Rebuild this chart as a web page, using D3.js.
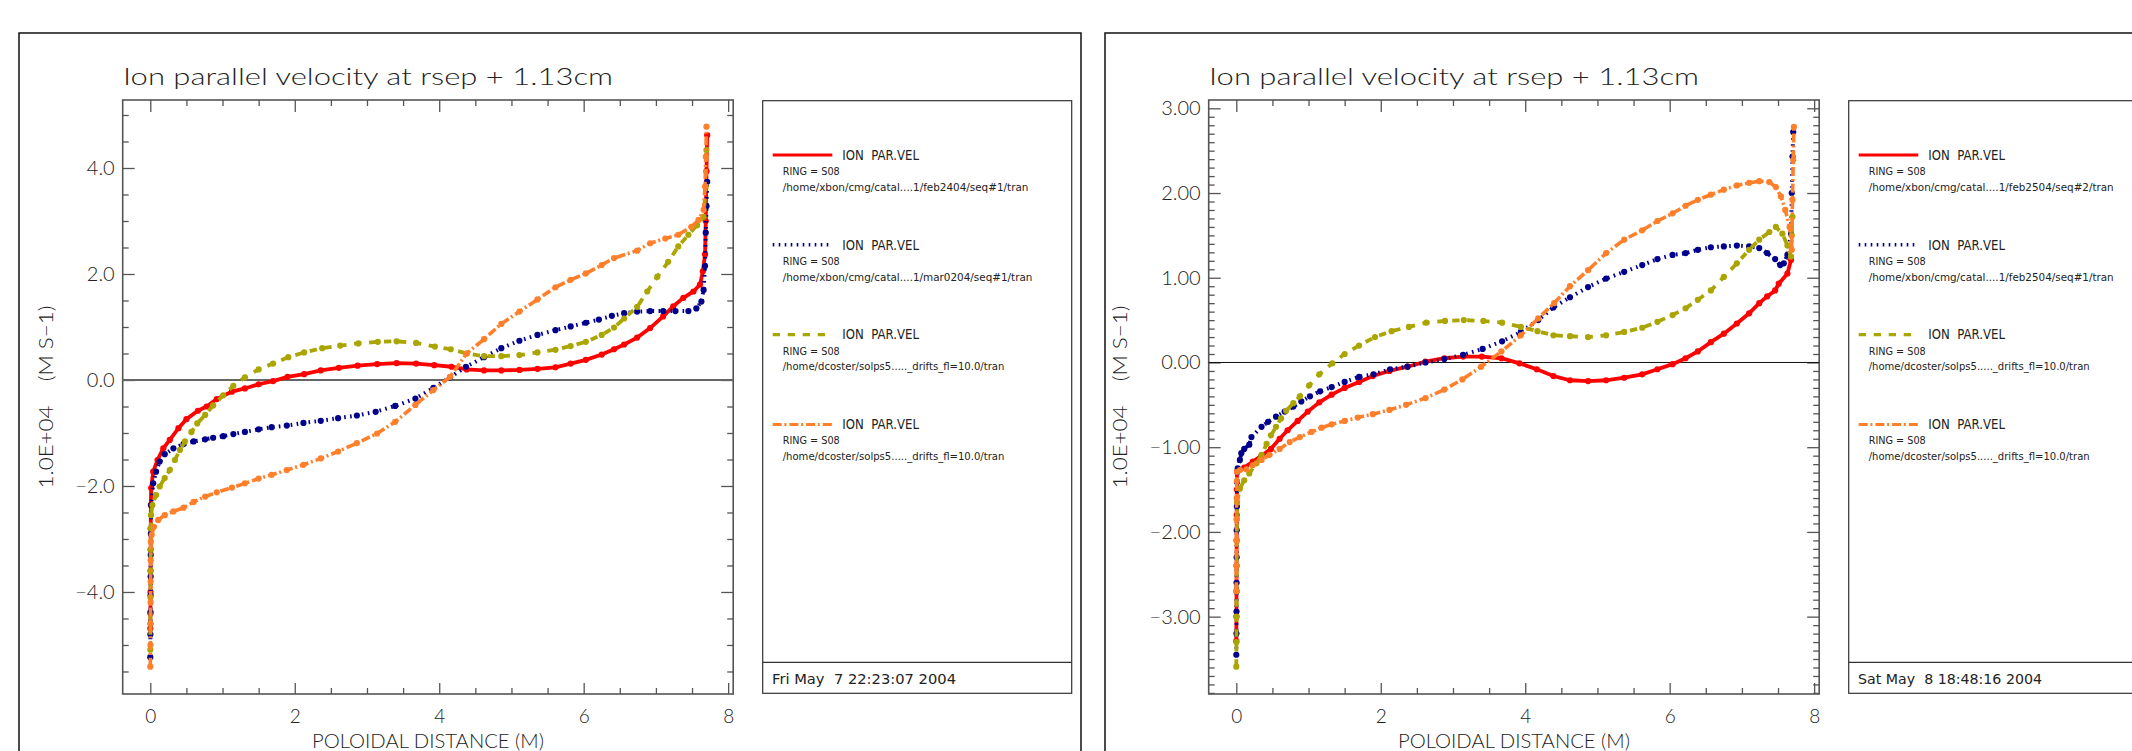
<!DOCTYPE html>
<html>
<head>
<meta charset="utf-8">
<script src="https://cdnjs.cloudflare.com/ajax/libs/d3/7.8.5/d3.min.js"></script>
<style>
  body { margin: 0; background: #fff; }
  svg { display: block; }
  text { font-family: 'DejaVu Sans ExtraLight', Lato, 'DejaVu Sans', sans-serif; font-weight: 300; fill: #222; white-space: pre; }
  .leg text { font-family: 'DejaVu Sans', sans-serif; font-weight: normal; }
</style>
</head>
<body>
<div id="chart"></div>
<script>
// ---- data (values in 1.0E+04 m/s) ----
var titleText = 'Ion parallel velocity at rsep + 1.13cm';
var xTitle = 'POLOIDAL DISTANCE (M)';
var yTitle = '1.0E+04    (M S\u22121)';
var xTicks = [0, 2, 4, 6, 8];
var xTickLabels = ['0', '2', '4', '6', '8'];
var yTicksA = [-4, -2, 0, 2, 4];
var yTickLabelsA = ['\u22124.0', '\u22122.0', '0.0', '2.0', '4.0'];
var yTicksB = [-3, -2, -1, 0, 1, 2, 3];
var yTickLabelsB = ['\u22123.00', '\u22122.00', '\u22121.00', '0.00', '1.00', '2.00', '3.00'];

var seriesNames = ['ION  PAR.VEL', 'ION  PAR.VEL', 'ION  PAR.VEL', 'ION  PAR.VEL'];
var ringLabel = 'RING = S08';
var pathsA = ['/home/xbon/cmg/catal....1/feb2404/seq#1/tran', '/home/xbon/cmg/catal....1/mar0204/seq#1/tran',
  '/home/dcoster/solps5....._drifts_fl=10.0/tran', '/home/dcoster/solps5....._drifts_fl=10.0/tran'];
var pathsB = ['/home/xbon/cmg/catal....1/feb2504/seq#2/tran', '/home/xbon/cmg/catal....1/feb2504/seq#1/tran',
  '/home/dcoster/solps5....._drifts_fl=10.0/tran', '/home/dcoster/solps5....._drifts_fl=10.0/tran'];
var dateA = 'Fri May  7 22:23:07 2004';
var dateB = 'Sat May  8 18:48:16 2004';

// left plot
var redAx = [0, 0.002, 0.003, 0.004, 0.005, 0.006, 0.008, 0.012, 0.04, 0.10, 0.18, 0.27, 0.39, 0.50, 0.66, 0.78, 0.92, 1.13, 1.31, 1.50, 1.70, 1.90, 2.13, 2.36, 2.61, 2.87, 3.14, 3.41, 3.68, 3.93, 4.17, 4.38, 4.62, 4.86, 5.11, 5.36, 5.61, 5.82, 6.03, 6.25, 6.42, 6.56, 6.74, 6.92, 7.10, 7.24, 7.38, 7.52, 7.61, 7.65, 7.68, 7.69, 7.70, 7.71];
var redAy = [-4.69, -4.4, -4.0, -3.6, -3.2, -2.8, -2.36, -2.04, -1.73, -1.51, -1.29, -1.13, -0.91, -0.74, -0.58, -0.50, -0.36, -0.22, -0.16, -0.08, -0.02, 0.06, 0.11, 0.18, 0.23, 0.27, 0.30, 0.32, 0.31, 0.28, 0.25, 0.20, 0.18, 0.18, 0.19, 0.21, 0.24, 0.31, 0.38, 0.48, 0.58, 0.67, 0.80, 0.98, 1.20, 1.39, 1.55, 1.67, 1.80, 2.05, 2.37, 3.0, 3.94, 4.62];
var blueAx = [0, 0.002, 0.003, 0.004, 0.005, 0.006, 0.008, 0.012, 0.04, 0.08, 0.13, 0.20, 0.32, 0.46, 0.60, 0.76, 0.87, 1.01, 1.15, 1.31, 1.50, 1.68, 1.89, 2.12, 2.36, 2.60, 2.86, 3.12, 3.39, 3.67, 3.92, 4.15, 4.37, 4.62, 4.86, 5.11, 5.36, 5.61, 5.82, 6.03, 6.21, 6.39, 6.56, 6.74, 6.92, 7.10, 7.27, 7.45, 7.56, 7.63, 7.66, 7.68, 7.69, 7.70, 7.71];
var blueAy = [-5.23, -4.8, -4.38, -4.06, -3.71, -3.3, -2.9, -2.36, -1.95, -1.73, -1.54, -1.40, -1.29, -1.21, -1.16, -1.12, -1.09, -1.06, -1.02, -0.98, -0.93, -0.89, -0.86, -0.81, -0.77, -0.72, -0.67, -0.60, -0.49, -0.35, -0.15, 0.05, 0.25, 0.43, 0.60, 0.74, 0.85, 0.94, 1.01, 1.08, 1.14, 1.21, 1.26, 1.29, 1.30, 1.30, 1.30, 1.30, 1.35, 1.48, 1.70, 2.15, 2.78, 3.28, 3.74];
var oliveAx = [0, 0.002, 0.003, 0.004, 0.005, 0.006, 0.01, 0.03, 0.08, 0.13, 0.20, 0.27, 0.34, 0.41, 0.48, 0.57, 0.65, 0.76, 0.87, 1.01, 1.15, 1.31, 1.50, 1.70, 1.91, 2.13, 2.38, 2.63, 2.88, 3.15, 3.41, 3.68, 3.94, 4.16, 4.38, 4.62, 4.86, 5.11, 5.36, 5.61, 5.82, 6.03, 6.25, 6.42, 6.56, 6.74, 6.88, 7.02, 7.17, 7.31, 7.45, 7.57, 7.66, 7.69, 7.70];
var oliveAy = [-5.09, -4.6, -4.1, -3.6, -3.2, -2.80, -2.55, -2.36, -2.17, -2.01, -1.85, -1.70, -1.51, -1.32, -1.16, -0.98, -0.82, -0.66, -0.48, -0.29, -0.11, 0.05, 0.20, 0.31, 0.43, 0.52, 0.60, 0.65, 0.69, 0.72, 0.73, 0.70, 0.63, 0.58, 0.50, 0.45, 0.45, 0.47, 0.52, 0.57, 0.64, 0.72, 0.85, 0.99, 1.16, 1.38, 1.67, 1.95, 2.23, 2.52, 2.74, 2.92, 3.08, 3.65, 4.34];
var orangeAx = [0, 0.002, 0.003, 0.004, 0.005, 0.006, 0.008, 0.02, 0.05, 0.11, 0.20, 0.32, 0.46, 0.60, 0.76, 0.92, 1.13, 1.31, 1.50, 1.68, 1.89, 2.12, 2.36, 2.60, 2.86, 3.14, 3.39, 3.67, 3.92, 4.15, 4.38, 4.62, 4.86, 5.11, 5.36, 5.61, 5.82, 6.03, 6.25, 6.42, 6.74, 6.92, 7.13, 7.31, 7.49, 7.59, 7.66, 7.68, 7.69, 7.70];
var orangeAy = [-5.41, -5.0, -4.6, -4.2, -3.8, -3.4, -3.05, -2.92, -2.77, -2.64, -2.55, -2.48, -2.41, -2.30, -2.20, -2.12, -2.03, -1.95, -1.86, -1.79, -1.70, -1.60, -1.48, -1.35, -1.19, -1.01, -0.79, -0.47, -0.19, 0.06, 0.50, 0.77, 1.06, 1.29, 1.52, 1.75, 1.89, 2.01, 2.17, 2.30, 2.44, 2.58, 2.67, 2.74, 2.89, 3.02, 3.21, 3.65, 4.21, 4.78];

// right plot
var redBx = [0, 0.002, 0.003, 0.004, 0.005, 0.006, 0.008, 0.01, 0.11, 0.23, 0.35, 0.48, 0.60, 0.71, 0.85, 0.99, 1.15, 1.32, 1.50, 1.70, 1.89, 2.12, 2.37, 2.62, 2.88, 3.14, 3.40, 3.67, 3.92, 4.16, 4.39, 4.62, 4.87, 5.12, 5.37, 5.62, 5.83, 6.04, 6.22, 6.39, 6.57, 6.75, 6.93, 7.10, 7.24, 7.35, 7.46, 7.51, 7.63, 7.68];
var redBy = [-3.29, -3.0, -2.7, -2.4, -2.1, -1.8, -1.5, -1.29, -1.24, -1.17, -1.10, -1.02, -0.90, -0.80, -0.69, -0.58, -0.47, -0.38, -0.30, -0.23, -0.16, -0.10, -0.05, 0.01, 0.05, 0.07, 0.07, 0.05, -0.01, -0.08, -0.16, -0.21, -0.22, -0.21, -0.18, -0.14, -0.08, -0.02, 0.05, 0.13, 0.24, 0.34, 0.46, 0.58, 0.70, 0.78, 0.85, 0.93, 1.05, 1.21];
var blueBx = [0, 0.002, 0.003, 0.004, 0.005, 0.006, 0.008, 0.01, 0.02, 0.05, 0.07, 0.11, 0.18, 0.21, 0.35, 0.44, 0.55, 0.67, 0.79, 0.90, 1.02, 1.16, 1.32, 1.50, 1.70, 1.90, 2.13, 2.37, 2.62, 2.88, 3.14, 3.41, 3.68, 3.94, 4.18, 4.39, 4.62, 4.87, 5.12, 5.37, 5.62, 5.83, 6.04, 6.22, 6.39, 6.57, 6.75, 6.93, 7.10, 7.24, 7.35, 7.46, 7.53, 7.58, 7.63, 7.68, 7.69, 7.70, 7.71];
var blueBy = [-3.45, -3.2, -2.94, -2.6, -2.3, -1.98, -1.7, -1.41, -1.25, -1.15, -1.07, -1.02, -0.97, -0.88, -0.76, -0.70, -0.64, -0.58, -0.52, -0.46, -0.40, -0.34, -0.29, -0.23, -0.17, -0.14, -0.08, -0.05, 0.00, 0.04, 0.09, 0.16, 0.25, 0.36, 0.50, 0.65, 0.77, 0.89, 0.99, 1.07, 1.15, 1.22, 1.27, 1.29, 1.33, 1.36, 1.37, 1.38, 1.37, 1.35, 1.29, 1.22, 1.15, 1.17, 1.27, 1.52, 2.00, 2.43, 2.72];
var oliveBx = [0, 0.002, 0.003, 0.004, 0.005, 0.006, 0.008, 0.01, 0.05, 0.11, 0.18, 0.28, 0.35, 0.42, 0.48, 0.55, 0.62, 0.69, 0.79, 0.88, 1.01, 1.15, 1.33, 1.50, 1.70, 1.92, 2.15, 2.39, 2.63, 2.89, 3.15, 3.42, 3.68, 3.94, 4.17, 4.39, 4.62, 4.87, 5.12, 5.37, 5.62, 5.83, 6.04, 6.22, 6.39, 6.57, 6.75, 6.93, 7.10, 7.24, 7.38, 7.47, 7.56, 7.63, 7.68, 7.69, 7.70];
var oliveBy = [-3.59, -3.3, -3.0, -2.7, -2.4, -2.1, -1.85, -1.65, -1.49, -1.39, -1.31, -1.19, -1.09, -0.96, -0.86, -0.76, -0.66, -0.57, -0.48, -0.40, -0.27, -0.14, -0.01, 0.10, 0.20, 0.30, 0.37, 0.42, 0.47, 0.49, 0.50, 0.49, 0.47, 0.42, 0.37, 0.32, 0.31, 0.30, 0.32, 0.36, 0.41, 0.48, 0.56, 0.64, 0.74, 0.85, 1.01, 1.17, 1.33, 1.45, 1.54, 1.60, 1.52, 1.38, 1.25, 1.50, 1.72];
var orangeBx = [0, 0.002, 0.003, 0.004, 0.005, 0.008, 0.01, 0.05, 0.14, 0.23, 0.35, 0.46, 0.60, 0.74, 0.88, 1.04, 1.18, 1.32, 1.50, 1.68, 1.89, 2.12, 2.35, 2.62, 2.88, 3.13, 3.39, 3.67, 3.94, 4.18, 4.40, 4.62, 4.87, 5.12, 5.37, 5.62, 5.83, 6.04, 6.22, 6.39, 6.57, 6.75, 6.93, 7.10, 7.24, 7.38, 7.47, 7.54, 7.60, 7.66, 7.69, 7.70, 7.71, 7.72];
var orangeBy = [-2.70, -2.4, -2.1, -1.85, -1.6, -1.40, -1.29, -1.27, -1.26, -1.21, -1.15, -1.09, -1.02, -0.94, -0.88, -0.82, -0.77, -0.73, -0.69, -0.65, -0.61, -0.56, -0.50, -0.42, -0.32, -0.20, -0.05, 0.13, 0.32, 0.52, 0.70, 0.90, 1.09, 1.29, 1.45, 1.56, 1.67, 1.76, 1.85, 1.92, 1.98, 2.04, 2.09, 2.12, 2.14, 2.13, 2.07, 1.96, 1.80, 1.60, 1.33, 1.92, 2.39, 2.78];

var colors = ['#ff0000', '#00008c', '#aaa500', '#ff7f2a'];
var dashes = [null, '1.6 4.4', '7.3 7.7', '9 2.7 2 3'];
var widths = [3.8, 4, 3.8, 3.6];

var W = 2132, H = 751;
var svg = d3.select('#chart').append('svg').attr('width', W).attr('height', H);

function zip(xs, ys) { return xs.map(function (x, i) { return [x, ys[i]]; }); }

function drawPanel(ox, cfg) {
  var g = svg.append('g').attr('transform', 'translate(' + ox + ',0)');

  // outer frame, bottom edge runs off the page
  g.append('rect').attr('x', 19).attr('y', 33).attr('width', 1062).attr('height', 780)
    .attr('fill', 'none').attr('stroke', '#111').attr('stroke-width', 1.5);

  g.append('text').attr('x', 123).attr('y', 85).attr('font-size', 23)
    .attr('textLength', 490).attr('lengthAdjust', 'spacingAndGlyphs').text(titleText);

  var left = 122.7, right = 733.2, top = 100, bottom = 694;
  var x = d3.scaleLinear().domain([-0.382, 8.07]).range([left, right]);
  var y = d3.scaleLinear().domain(cfg.yDomain).range([bottom, top]);

  var minorX = d3.range(0, 8.01, 0.5).filter(function (v) { return v % 2 !== 0; });
  var minorY = d3.range(Math.ceil(cfg.yDomain[0] / cfg.minor) * cfg.minor, cfg.yDomain[1], cfg.minor)
    .filter(function (v) { return Math.abs(v - Math.round(v)) > 1e-6 || cfg.yTicks.indexOf(Math.round(v)) < 0; });

  function styleAxis(sel) {
    sel.select('.domain').remove();
    sel.selectAll('line').attr('stroke', '#555').attr('stroke-width', 1.3);
    sel.selectAll('text').attr('fill', '#222').style('font-family', null);
  }

  // major ticks with labels
  g.append('g').attr('transform', 'translate(0,' + bottom + ')')
    .call(d3.axisBottom(x).tickValues(xTicks).tickSizeInner(-11).tickSizeOuter(0).tickPadding(16)
      .tickFormat(function (d, i) { return xTickLabels[i]; }))
    .call(styleAxis).selectAll('text').attr('font-size', 19);
  g.append('g').attr('transform', 'translate(0,' + top + ')')
    .call(d3.axisTop(x).tickValues(xTicks).tickSizeInner(-12).tickSizeOuter(0).tickFormat(''))
    .call(styleAxis);
  g.append('g').attr('transform', 'translate(' + left + ',0)')
    .call(d3.axisLeft(y).tickValues(cfg.yTicks).tickSizeInner(-12).tickSizeOuter(0).tickPadding(8)
      .tickFormat(function (d, i) { return cfg.yLabels[i]; }))
    .call(styleAxis).selectAll('text').attr('font-size', 20);
  g.append('g').attr('transform', 'translate(' + right + ',0)')
    .call(d3.axisRight(y).tickValues(cfg.yTicks).tickSizeInner(-12).tickSizeOuter(0).tickFormat(''))
    .call(styleAxis);

  // minor ticks
  [['b', bottom], ['t', top]].forEach(function (p) {
    var ax = p[0] === 'b' ? d3.axisBottom(x) : d3.axisTop(x);
    g.append('g').attr('transform', 'translate(0,' + p[1] + ')')
      .call(ax.tickValues(minorX).tickSizeInner(-6).tickSizeOuter(0).tickFormat(''))
      .call(styleAxis);
  });
  [['l', left], ['r', right]].forEach(function (p) {
    var ax = p[0] === 'l' ? d3.axisLeft(y) : d3.axisRight(y);
    g.append('g').attr('transform', 'translate(' + p[1] + ',0)')
      .call(ax.tickValues(minorY).tickSizeInner(-6).tickSizeOuter(0).tickFormat(''))
      .call(styleAxis);
  });

  g.append('rect').attr('x', left).attr('y', top).attr('width', right - left).attr('height', bottom - top)
    .attr('fill', 'none').attr('stroke', '#555').attr('stroke-width', 1.6);

  // zero line
  g.append('line').attr('x1', left).attr('x2', right).attr('y1', y(0)).attr('y2', y(0))
    .attr('stroke', cfg.zeroColor).attr('stroke-width', cfg.zeroWidth);

  // axis titles
  g.append('text').attr('x', (left + right) / 2).attr('y', 748).attr('text-anchor', 'middle')
    .attr('font-size', 19).attr('textLength', 232).attr('lengthAdjust', 'spacingAndGlyphs').text(xTitle);
  g.append('text').attr('transform', 'translate(' + cfg.yTitleX + ',' + (top + bottom) / 2 + ') rotate(-90)')
    .attr('text-anchor', 'middle').attr('font-size', 19)
    .attr('textLength', 183).attr('lengthAdjust', 'spacingAndGlyphs').text(yTitle);

  // curves
  var clip = 'clip' + ox;
  g.append('clipPath').attr('id', clip).append('rect')
    .attr('x', left).attr('y', top).attr('width', right - left).attr('height', bottom - top);
  var plot = g.append('g').attr('clip-path', 'url(#' + clip + ')');
  var line = d3.line().x(function (d) { return x(d[0]); }).y(function (d) { return y(d[1]); });

  cfg.series.forEach(function (s, i) {
    var pts = zip(s[0], s[1]);
    plot.append('path').datum(pts).attr('d', line).attr('fill', 'none')
      .attr('stroke', colors[i]).attr('stroke-width', widths[i])
      .attr('stroke-dasharray', dashes[i]);
    plot.selectAll('circle.s' + i).data(pts).enter().append('circle')
      .attr('class', 's' + i).attr('cx', function (d) { return x(d[0]); }).attr('cy', function (d) { return y(d[1]); })
      .attr('r', 3.1).attr('fill', colors[i]);
  });

  // legend box
  var leg = g.append('g').attr('class', 'leg');
  leg.append('rect').attr('x', 762.7).attr('y', 100.7).attr('width', 309).attr('height', 592.6)
    .attr('fill', 'none').attr('stroke', '#333').attr('stroke-width', 1.2);
  leg.append('line').attr('x1', 762.7).attr('x2', 1071.7).attr('y1', 662.3).attr('y2', 662.3)
    .attr('stroke', '#333').attr('stroke-width', 1.2);
  leg.append('text').attr('x', 772).attr('y', 684).attr('font-size', 14)
    .attr('textLength', 184).attr('lengthAdjust', 'spacingAndGlyphs').text(cfg.date);

  seriesNames.forEach(function (name, i) {
    var ly = 155 + i * 89.8;
    leg.append('line').attr('x1', 772.7).attr('x2', 832.3).attr('y1', ly).attr('y2', ly)
      .attr('stroke', colors[i]).attr('stroke-width', widths[i] - 0.6).attr('stroke-dasharray', dashes[i]);
    leg.append('text').attr('x', 842.3).attr('y', ly + 4.7).attr('font-size', 13.5)
      .attr('textLength', 76.7).attr('lengthAdjust', 'spacingAndGlyphs').text(name);
    leg.append('text').attr('x', 782.7).attr('y', ly + 20).attr('font-size', 10)
      .attr('textLength', 57).attr('lengthAdjust', 'spacingAndGlyphs').text(ringLabel);
    leg.append('text').attr('x', 782.7).attr('y', ly + 35.7).attr('font-size', 10)
      .attr('textLength', cfg.pathW[i]).attr('lengthAdjust', 'spacingAndGlyphs').text(cfg.paths[i]);
  });
}

drawPanel(0, {
  yDomain: [-5.925, 5.283], yTicks: yTicksA, yLabels: yTickLabelsA, minor: 0.5,
  zeroColor: '#666', zeroWidth: 2, yTitleX: 52.5,
  series: [[redAx, redAy], [blueAx, blueAy], [oliveAx, oliveAy], [orangeAx, orangeAy]],
  paths: pathsA, pathW: [245.7, 249.7, 221.7, 221.7], date: dateA
});
drawPanel(1086, {
  yDomain: [-3.913, 3.098], yTicks: yTicksB, yLabels: yTickLabelsB, minor: 0.1,
  zeroColor: '#111', zeroWidth: 1, yTitleX: 41,
  series: [[redBx, redBy], [blueBx, blueBy], [oliveBx, oliveBy], [orangeBx, orangeBy]],
  paths: pathsB, pathW: [245, 245, 221, 221], date: dateB
});
</script>
</body>
</html>
